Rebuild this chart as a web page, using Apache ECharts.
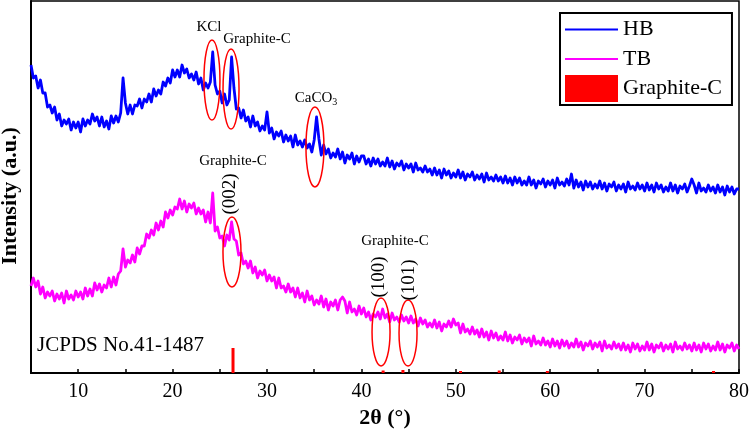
<!DOCTYPE html>
<html>
<head>
<meta charset="utf-8">
<script src="https://cdn.jsdelivr.net/npm/echarts/dist/echarts.min.js"></script>
<style>
  html, body { margin: 0; padding: 0; background: #fff; }
  #main { width: 750px; height: 432px; }
</style>
</head>
<body>
<div id="main"></div>
<script>
// 2θ grid of the scans
var angleStart = 5
var angleStep = 0.25

// HB intensity (a.u.), 5° .. 80° every 0.25°
var hb = [
  308, 295, 297, 285, 293, 280, 280, 266, 268, 260,
  266, 253, 259, 247, 253, 249, 254, 243, 251, 245,
  251, 241, 254, 247, 253, 249, 259, 252, 256, 247,
  256, 246, 252, 244, 257, 250, 257, 251, 260, 295,
  270, 259, 268, 259, 268, 267, 274, 265, 274, 271,
  279, 271, 284, 277, 283, 279, 291, 287, 295, 290,
  303, 296, 303, 296, 308, 300, 304, 295, 299, 293,
  301, 289, 295, 283, 290, 285, 291, 321, 288, 279,
  282, 270, 279, 268, 273, 316, 285, 264, 265, 255,
  263, 252, 256, 246, 257, 247, 251, 242, 247, 243,
  261, 240, 245, 234, 241, 237, 242, 231, 238, 232,
  237, 226, 238, 228, 232, 226, 233, 225, 229, 221,
  233, 256, 234, 218, 228, 219, 224, 215, 220, 216,
  224, 214, 221, 210, 218, 214, 220, 209, 217, 211,
  217,
  217, 209, 214, 207, 215, 209, 214, 207, 211, 207,
  215, 206, 212, 204, 210, 207, 212, 203, 209, 205,
  209, 201, 210, 203, 205, 201, 207, 201, 204, 198,
  205, 198, 203, 195, 204, 198, 202, 195, 200, 196,
  203, 195, 201, 193, 199, 196, 201, 193, 198, 194,
  199, 191, 200, 193, 196, 192, 198, 192, 196, 190,
  197, 190, 195, 188, 196, 190, 195, 188, 192, 188,
  196, 188, 193, 185, 192, 189, 194, 186, 192, 188,
  193, 185, 195, 188, 191, 187, 194, 188, 199, 185,
  193, 186, 191, 183, 192, 186, 191, 184, 189, 185,
  192, 184, 190, 182, 189, 186, 191, 182, 188, 184,
  189, 181, 191, 184, 187, 183, 190, 184, 188, 182,
  190, 183, 188, 181, 190, 184, 188, 181, 186, 182,
  190, 182, 188, 180, 187, 184, 189, 181, 187, 194,
  188, 180, 190, 182, 185, 181, 188, 182, 186, 180,
  188, 181, 186, 178, 187, 181, 186, 179, 184, 184
]

// TB intensity (a.u.), same grid
var tb = [
  87, 95, 86, 92, 79, 86, 75, 81, 77, 82,
  72, 79, 74, 80, 70, 82, 74, 78, 73, 82,
  76, 81, 74, 85, 77, 84, 77, 90, 83, 89,
  81, 88, 85, 95, 86, 96, 88, 99, 102, 124,
  106, 113, 110, 118, 111, 125, 119, 127, 127, 139,
  135, 143, 138, 150, 143, 152, 146, 161, 155, 163,
  158, 166, 164, 174, 164, 172, 161, 169, 165, 170,
  159, 165, 159, 163, 151, 161, 150, 180, 142, 146,
  135, 137, 127, 138, 133, 151, 134, 132, 118, 120,
  109, 112, 105, 112, 100, 106, 95, 102, 98, 103,
  92, 98, 92, 96, 85, 95, 85, 87, 81, 89,
  81, 85, 76, 85, 75, 80, 71, 82, 73, 77,
  68, 73, 69, 77, 66, 74, 63, 71, 67, 73,
  63, 73, 76, 72, 60, 71, 61, 64, 58, 67,
  59,
  65, 56, 61, 53, 59, 56, 61, 54, 64, 55,
  59, 51, 60, 53, 56, 51, 58, 52, 56, 50,
  57, 50, 54, 47, 55, 49, 53, 46, 50, 46,
  53, 45, 51, 42, 49, 46, 52, 46, 54, 48,
  50, 40, 49, 41, 44, 39, 46, 39, 43, 36,
  44, 36, 41, 33, 42, 35, 40, 33, 37, 33,
  41, 32, 38, 30, 36, 33, 38, 29, 35, 31,
  35, 27, 37, 29, 32, 28, 35, 28, 32, 26,
  34, 27, 32, 25, 33, 27, 32, 25, 30, 26,
  34, 26, 31, 23, 30, 27, 32, 24, 30, 26,
  31, 22, 32, 25, 28, 24, 31, 25, 29, 23,
  30, 23, 28, 21, 30, 24, 29, 22, 27, 23,
  31, 23, 29, 21, 28, 25, 30, 22, 28, 24,
  29, 21, 31, 24, 27, 23, 30, 24, 28, 22,
  30, 23, 28, 21, 30, 24, 29, 22, 27, 23,
  31, 23, 29, 21, 28, 25, 30, 22, 28, 24
]

// Graphite-C reference lines (JCPDS No.41-1487)
var refAngles = [26.4, 42.3, 44.4, 50.5, 54.6, 59.7, 77.3]
var refHeights = [25, 2.5, 3, 2, 2.5, 2, 2]

var xTicks = [10, 20, 30, 40, 50, 60, 70, 80]

// 标注：椭圆圈 [2θ, 强度]
var ringAt = [[24.17, 293], [26.19, 284], [35.08, 226], [26.29, 121], [42.08, 41], [44.94, 40]]
var ringSize = [[8, 40], [8, 40], [9, 40], [9, 35], [9, 34], [9, 33]]

// 标注：文字
var noteText = ['KCl', 'Graphite-C', 'CaCO{s|3}', 'Graphite-C', '(002)', 'Graphite-C', '(100)', '(101)', 'JCPDS No.41-1487']
var noteAt = [[23.86, 346], [28.94, 334], [35.19, 275], [26.4, 212], [26.1, 179], [43.56, 132], [41.86, 96], [45.04, 93], [5.64, 28]]
var noteSize = [15, 15, 15, 15, 19, 15, 19, 19, 21]
var noteRot = [0, 0, 0, 0, 1, 0, 1, 1, 0]

var serif = '"Liberation Serif", "Times New Roman", serif'
// 图例里的线：中间一条细横线，四角留点让图标不被拉伸
var lineIcon = 'path://M0,0L0.01,0L0.01,0.01Z M0,12.5L53,12.5L53,14.5L0,14.5Z M52.99,27L53,27L53,26.99Z'

function pairs(vals) {
  return vals.map(function (v, i) { return [angleStart + i * angleStep, v] })
}

var chart = echarts.init(document.getElementById('main'))

var option = {
  animation: false,
  backgroundColor: '#fff',
  grid: {
    left: 31, right: 11, top: 1, bottom: 59,
    outerBoundsMode: 'none',
    containLabel: false,
    show: true, borderColor: '#000', borderWidth: 1.5
  },
  legend: {
    orient: 'vertical',
    left: 560, top: 13,
    padding: [3, 10, 3, 5],
    itemWidth: 53, itemHeight: 27, itemGap: 2.5,
    borderColor: '#000', borderWidth: 2,
    selectedMode: false,
    textStyle: { fontFamily: serif, fontSize: 22, color: '#000' },
    data: [
      { name: 'HB', icon: lineIcon },
      { name: 'TB', icon: lineIcon },
      { name: 'Graphite-C', icon: 'rect' }
    ]
  },
  xAxis: {
    type: 'value',
    min: 5, max: 80, interval: 5,
    name: '2θ (°)',
    nameLocation: 'middle',
    nameGap: 31,
    nameTextStyle: { fontFamily: serif, fontSize: 22, fontWeight: 'bold', color: '#000' },
    axisLine: { lineStyle: { color: '#000', width: 2 } },
    axisTick: { inside: true, length: 4, lineStyle: { color: '#000', width: 1.5 } },
    axisLabel: {
      fontFamily: serif, fontSize: 20, color: '#000', margin: 9,
      formatter: function (v) { return xTicks.indexOf(v) >= 0 ? String(v) : '' }
    },
    splitLine: { show: false }
  },
  yAxis: {
    type: 'value',
    min: 0, max: 372,
    name: 'Intensity (a.u.)',
    nameLocation: 'middle',
    nameGap: 10,
    nameTextStyle: { fontFamily: serif, fontSize: 22, fontWeight: 'bold', color: '#000', padding: [0, 18, 0, 0] },
    axisLine: { show: true, lineStyle: { color: '#000', width: 2 } },
    axisTick: { show: false },
    axisLabel: { show: false },
    splitLine: { show: false }
  },
  series: [
    {
      name: 'HB', type: 'line', data: pairs(hb),
      symbol: 'none', color: '#0000ff',
      lineStyle: { width: 2.8, color: '#0000ff', join: 'round' }, z: 3
    },
    {
      name: 'TB', type: 'line', data: pairs(tb),
      symbol: 'none', color: '#ff00ff',
      lineStyle: { width: 2.8, color: '#ff00ff', join: 'round' }, z: 3
    },
    {
      name: 'Graphite-C', type: 'bar',
      data: refAngles.map(function (a, i) { return [a, refHeights[i]] }),
      barWidth: 3, color: '#ff0000', itemStyle: { color: '#ff0000' }, z: 4
    },
    {
      name: 'rings', type: 'custom', data: ringAt, z: 5, silent: true,
      renderItem: function (params, api) {
        var p = api.coord([api.value(0), api.value(1)])
        var r = ringSize[params.dataIndex]
        return {
          type: 'ellipse',
          shape: { cx: p[0], cy: p[1], rx: r[0], ry: r[1] },
          style: { fill: 'none', stroke: '#ff0000', lineWidth: 1.5 }
        }
      }
    },
    {
      name: 'notes', type: 'custom', data: noteAt, z: 6, silent: true, clip: false,
      renderItem: function (params, api) {
        var i = params.dataIndex
        var p = api.coord([api.value(0), api.value(1)])
        return {
          type: 'text',
          x: p[0], y: p[1],
          rotation: noteRot[i] ? Math.PI / 2 : 0,
          style: {
            text: noteText[i],
            fontFamily: serif,
            fontSize: noteSize[i],
            fill: '#000',
            align: i === 8 ? 'left' : 'center',
            verticalAlign: 'middle',
            rich: { s: { fontSize: 10, fontFamily: serif, verticalAlign: 'bottom', padding: [8, 0, 0, 0] } }
          }
        }
      }
    }
  ]
}

chart.setOption(option)
</script>
</body>
</html>
